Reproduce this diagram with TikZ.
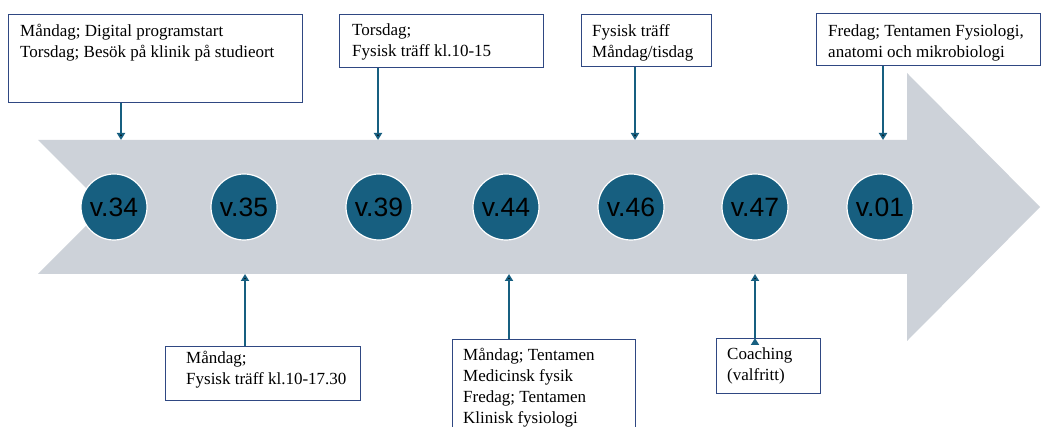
\documentclass[tikz,border=0pt]{standalone}
\usepackage{fontspec}
\setmainfont{Liberation Serif}
\newfontfamily\boxfont{Liberation Serif}
\newfontfamily\weekfont{Liberation Sans}
\usetikzlibrary{arrows.meta, positioning}

\definecolor{bandgrey}{RGB}{205,210,217}
\definecolor{weekblue}{RGB}{23,95,128}
\definecolor{boxline}{RGB}{47,72,130}

\tikzset{
	week/.style={circle, fill=weekblue, draw=white, line width=1.2pt, minimum size=66pt, inner sep=0pt, font=\weekfont\fontsize{26.5}{30}\selectfont},
	box/.style={draw=boxline, line width=1pt, anchor=north west, inner sep=0pt},
	info/.style={anchor=north west, inner sep=0pt, align=left, font=\boxfont\fontsize{17}{21}\selectfont},
	pil/.style={draw=weekblue, line width=2pt, -{Triangle[width=8pt,length=7pt]}},
}

\begin{document}
\begin{tikzpicture}[x=1pt, y=-1pt]
	\useasboundingbox (0,0) rectangle (1041,427);
	\clip (0,0) rectangle (1041,427);

	% the grey arrow
	\fill[bandgrey] (38,140) -- (907,140) -- (907,73) -- (1040,207) -- (907,341)
		-- (907,274) -- (38,274) -- (105,207) -- cycle;

	% weeks
	\node[week]	(c34)	at (114,207)	{v.34};
	\node[week]	(c35)	at (244,207)	{v.35};
	\node[week]	(c39)	at (379,207)	{v.39};
	\node[week]	(c44)	at (506,207)	{v.44};
	\node[week]	(c46)	at (631,207)	{v.46};
	\node[week]	(c47)	at (755,207)	{v.47};
	\node[week]	(c01)	at (880,207)	{v.01};

	% arrow ends on the edge of the band
	\coordinate	(a34)	at (121,140);
	\coordinate	(a39)	at (378,140);
	\coordinate	(a46)	at (635,140);
	\coordinate	(a01)	at (883,140);
	\coordinate	(a35)	at (245,274);
	\coordinate	(a44)	at (509,274);
	\coordinate	(a47)	at (755,274);

	% boxes above
	\node[box, minimum width=294pt, minimum height=88pt]	(b34)	at (8,14)	{};
	\node[box, minimum width=204pt, minimum height=53pt]	(b39)	at (339,14)	{};
	\node[box, minimum width=130pt, minimum height=52pt]	(b46)	at (581,14)	{};
	\node[box, minimum width=224pt, minimum height=52pt]	(b01)	at (816,13)	{};
	% boxes below
	\node[box, minimum width=195pt, minimum height=54pt]	(b35)	at (165,346)	{};
	\node[box, minimum width=183pt, minimum height=100pt]	(b44)	at (452,339)	{};
	\node[box, minimum width=104pt, minimum height=55pt]	(b47)	at (716,338)	{};

	% texts
	\node[info]	(t34)	at ([shift={(12,10)}]b34.north west)	{Måndag; Digital programstart\\Torsdag; Besök på klinik på studieort};
	\node[info]	(t39)	at ([shift={(13,10)}]b39.north west)	{Torsdag;\\Fysisk träff kl.10-15};
	\node[info]	(t46)	at ([shift={(11,10)}]b46.north west)	{Fysisk träff\\Måndag/tisdag};
	\node[info]	(t01)	at ([shift={(12,12)}]b01.north west)	{Fredag; Tentamen Fysiologi,\\anatomi och mikrobiologi};
	\node[info]	(t35)	at ([shift={(21,5)}]b35.north west)	{Måndag;\\Fysisk träff kl.10-17.30};
	\node[info]	(t44)	at ([shift={(11,9)}]b44.north west)	{Måndag; Tentamen\\Medicinsk fysik\\Fredag; Tentamen\\Klinisk fysiologi};
	\node[info]	(t47)	at ([shift={(11,10)}]b47.north west)	{Coaching\\(valfritt)};

	\path[pil]
	(b34.south -| a34)	edge	(a34)
	(b39.south -| a39)	edge	(a39)
	(b46.south -| a46)	edge	(a46)
	(b01.south -| a01)	edge	(a01)
	(b35.north -| a35)	edge	(a35)
	(b44.north -| a44)	edge	(a44)
	(b47.north -| a47)	edge	(a47)
;

\end{tikzpicture}
\end{document}
